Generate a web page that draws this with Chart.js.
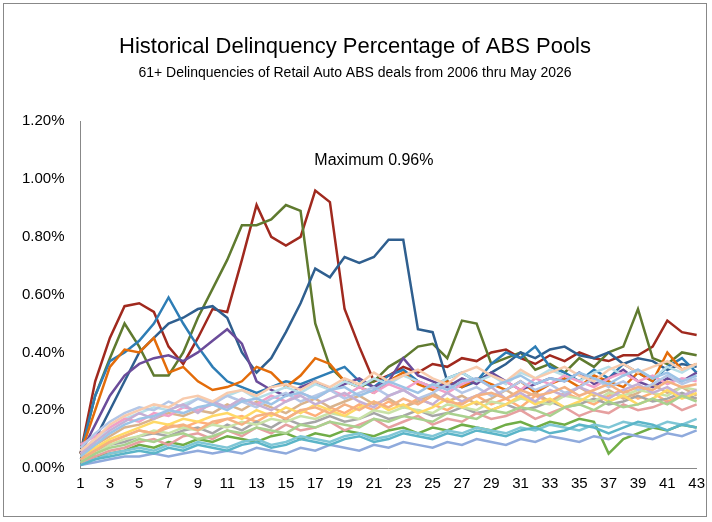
<!DOCTYPE html>
<html><head><meta charset="utf-8">
<script src="https://cdn.jsdelivr.net/npm/chart.js@4"></script>
<style>
html,body{margin:0;padding:0;background:#fff}
#wrap{position:absolute;left:3px;top:3px;width:704px;height:514px;border:1px solid #888;box-sizing:border-box}
canvas{display:block}
</style></head><body>
<div id="wrap"><canvas id="c" width="704" height="514"></canvas></div>
<script>
const categories = Array.from({length:43},(_, i)=>String(i+1));
const titleText = "Historical Delinquency Percentage of ABS Pools";
const subtitleText = "61+ Delinquencies of Retail Auto ABS deals from 2006 thru May 2026";
const annotationText = "Maximum 0.96%";
const yTicks = [0,0.2,0.4,0.6,0.8,1.0,1.2];

const seriesDarkRed = [0.05,0.30,0.45,0.56,0.57,0.54,0.42,0.36,0.45,0.55,0.54,0.72,0.91,0.80,0.77,0.80,0.96,0.92,0.55,0.42,0.30,0.32,0.35,0.33,0.36,0.35,0.38,0.37,0.40,0.41,0.38,0.36,0.39,0.37,0.40,0.38,0.37,0.39,0.39,0.42,0.51,0.47,0.46];
const seriesOlive   = [0.05,0.25,0.38,0.50,0.42,0.32,0.32,0.40,0.52,0.62,0.72,0.84,0.84,0.86,0.91,0.89,0.50,0.35,0.30,0.28,0.30,0.35,0.38,0.42,0.43,0.38,0.51,0.50,0.36,0.38,0.40,0.34,0.36,0.33,0.38,0.35,0.40,0.42,0.55,0.38,0.36,0.40,0.39];
const seriesSteel   = [0.03,0.10,0.20,0.30,0.40,0.45,0.50,0.52,0.55,0.56,0.52,0.40,0.33,0.38,0.47,0.57,0.69,0.66,0.73,0.71,0.73,0.79,0.79,0.48,0.47,0.30,0.28,0.30,0.33,0.36,0.40,0.38,0.41,0.42,0.39,0.38,0.40,0.36,0.38,0.37,0.34,0.36,0.35];
const seriesTeal    = [0.05,0.25,0.37,0.40,0.44,0.50,0.59,0.50,0.42,0.35,0.30,0.28,0.26,0.28,0.30,0.29,0.31,0.33,0.35,0.30,0.28,0.32,0.34,0.30,0.28,0.31,0.33,0.30,0.36,0.40,0.38,0.42,0.35,0.33,0.30,0.34,0.31,0.36,0.33,0.30,0.35,0.38,0.33];
const seriesOrange  = [0.05,0.20,0.35,0.41,0.40,0.45,0.33,0.35,0.30,0.27,0.28,0.30,0.35,0.33,0.28,0.32,0.38,0.36,0.30,0.28,0.26,0.30,0.33,0.29,0.27,0.30,0.28,0.31,0.29,0.27,0.30,0.26,0.29,0.31,0.28,0.32,0.30,0.28,0.33,0.30,0.40,0.34,0.36];
const seriesPurple  = [0.05,0.15,0.25,0.32,0.36,0.38,0.39,0.37,0.40,0.44,0.48,0.43,0.30,0.27,0.25,0.28,0.30,0.27,0.29,0.31,0.28,0.30,0.38,0.32,0.30,0.28,0.31,0.29,0.33,0.30,0.27,0.29,0.31,0.30,0.33,0.29,0.31,0.34,0.30,0.28,0.31,0.30,0.33];

const bg1  = [0.04,0.08,0.12,0.15,0.17,0.18,0.20,0.19,0.21,0.22,0.20,0.23,0.24,0.22,0.25,0.26,0.24,0.27,0.28,0.25,0.27,0.30,0.28,0.26,0.29,0.27,0.30,0.31,0.28,0.30,0.32,0.29,0.31,0.30,0.33,0.31,0.29,0.32,0.34,0.31,0.33,0.30,0.32];
const bg2  = [0.03,0.06,0.09,0.11,0.13,0.12,0.14,0.15,0.13,0.16,0.17,0.15,0.18,0.19,0.17,0.20,0.21,0.19,0.22,0.20,0.23,0.21,0.24,0.22,0.25,0.23,0.22,0.25,0.26,0.24,0.27,0.25,0.26,0.28,0.25,0.27,0.29,0.26,0.28,0.27,0.30,0.28,0.29];
const bg3  = [0.02,0.05,0.07,0.08,0.10,0.09,0.11,0.12,0.10,0.11,0.13,0.12,0.14,0.13,0.12,0.15,0.14,0.16,0.15,0.14,0.17,0.16,0.18,0.17,0.16,0.19,0.18,0.17,0.20,0.19,0.21,0.20,0.18,0.21,0.22,0.20,0.23,0.21,0.22,0.24,0.22,0.25,0.23];
const bg4  = [0.06,0.10,0.15,0.18,0.20,0.22,0.21,0.24,0.25,0.23,0.26,0.27,0.25,0.28,0.29,0.27,0.30,0.28,0.31,0.29,0.33,0.30,0.32,0.34,0.31,0.29,0.33,0.35,0.32,0.30,0.34,0.31,0.33,0.35,0.32,0.30,0.34,0.36,0.33,0.35,0.37,0.34,0.36];
const bg5  = [0.01,0.03,0.04,0.05,0.06,0.05,0.07,0.06,0.08,0.07,0.06,0.08,0.09,0.07,0.08,0.10,0.09,0.08,0.10,0.11,0.09,0.10,0.12,0.11,0.10,0.12,0.11,0.13,0.12,0.11,0.13,0.14,0.12,0.13,0.15,0.14,0.12,0.14,0.16,0.15,0.13,0.15,0.14];
const bg6  = [0.05,0.09,0.13,0.16,0.19,0.17,0.20,0.22,0.19,0.23,0.21,0.24,0.22,0.20,0.23,0.25,0.22,0.24,0.26,0.23,0.21,0.25,0.27,0.24,0.22,0.26,0.23,0.25,0.28,0.24,0.26,0.23,0.27,0.25,0.28,0.26,0.24,0.27,0.29,0.26,0.28,0.25,0.27];
const bg7  = [0.02,0.04,0.06,0.07,0.09,0.10,0.08,0.11,0.12,0.10,0.13,0.11,0.14,0.12,0.15,0.13,0.14,0.16,0.13,0.15,0.17,0.14,0.16,0.18,0.15,0.17,0.16,0.19,0.17,0.18,0.20,0.17,0.19,0.21,0.18,0.20,0.19,0.22,0.20,0.21,0.23,0.20,0.22];
const bg8  = [0.07,0.12,0.16,0.19,0.21,0.20,0.23,0.21,0.24,0.22,0.25,0.23,0.21,0.24,0.26,0.23,0.25,0.27,0.24,0.26,0.28,0.25,0.27,0.24,0.26,0.29,0.26,0.28,0.25,0.27,0.30,0.27,0.29,0.26,0.28,0.31,0.28,0.30,0.27,0.29,0.32,0.29,0.31];
const bg9  = [0.01,0.02,0.03,0.04,0.04,0.05,0.04,0.05,0.06,0.05,0.06,0.05,0.07,0.06,0.05,0.07,0.06,0.08,0.07,0.06,0.08,0.07,0.09,0.08,0.07,0.09,0.08,0.10,0.09,0.08,0.10,0.09,0.11,0.10,0.09,0.11,0.10,0.12,0.11,0.10,0.12,0.11,0.13];
const bg10 = [0.04,0.07,0.10,0.12,0.14,0.16,0.15,0.17,0.16,0.18,0.19,0.17,0.20,0.18,0.21,0.19,0.22,0.20,0.18,0.21,0.23,0.20,0.22,0.19,0.21,0.24,0.21,0.23,0.20,0.22,0.25,0.22,0.24,0.21,0.23,0.26,0.23,0.25,0.22,0.24,0.27,0.24,0.26];
const bg11 = [0.03,0.05,0.08,0.10,0.11,0.13,0.12,0.14,0.13,0.15,0.14,0.16,0.15,0.17,0.16,0.18,0.17,0.19,0.18,0.17,0.20,0.19,0.21,0.20,0.19,0.22,0.21,0.20,0.23,0.22,0.24,0.23,0.22,0.25,0.24,0.23,0.26,0.25,0.27,0.26,0.25,0.28,0.27];
const bg12 = [0.08,0.11,0.14,0.17,0.16,0.19,0.18,0.21,0.20,0.22,0.21,0.24,0.22,0.25,0.23,0.26,0.24,0.27,0.25,0.28,0.26,0.29,0.27,0.30,0.28,0.26,0.29,0.31,0.28,0.30,0.27,0.31,0.29,0.32,0.30,0.28,0.31,0.33,0.30,0.32,0.29,0.31,0.30];
const bg13 = [0.02,0.03,0.05,0.06,0.07,0.06,0.08,0.07,0.09,0.08,0.07,0.09,0.10,0.08,0.09,0.11,0.10,0.09,0.11,0.12,0.10,0.11,0.13,0.12,0.11,0.13,0.12,0.14,0.13,0.12,0.14,0.13,0.15,0.14,0.13,0.15,0.14,0.16,0.15,0.14,0.16,0.15,0.17];
const bg14 = [0.05,0.08,0.11,0.14,0.15,0.17,0.19,0.18,0.20,0.19,0.22,0.20,0.23,0.21,0.19,0.22,0.24,0.21,0.23,0.25,0.22,0.24,0.21,0.23,0.26,0.23,0.25,0.22,0.24,0.27,0.24,0.26,0.23,0.25,0.28,0.25,0.27,0.24,0.26,0.29,0.26,0.28,0.25];
const bg15 = [0.03,0.06,0.08,0.09,0.11,0.12,0.11,0.13,0.14,0.12,0.15,0.13,0.16,0.14,0.17,0.15,0.16,0.18,0.16,0.17,0.19,0.17,0.18,0.20,0.18,0.19,0.21,0.19,0.20,0.22,0.20,0.21,0.23,0.21,0.22,0.24,0.22,0.23,0.25,0.23,0.24,0.26,0.24];
const bg16 = [0.06,0.10,0.14,0.17,0.19,0.21,0.20,0.22,0.24,0.23,0.25,0.27,0.24,0.26,0.28,0.26,0.29,0.27,0.30,0.28,0.31,0.29,0.32,0.30,0.28,0.31,0.33,0.30,0.32,0.29,0.33,0.31,0.34,0.32,0.30,0.33,0.35,0.32,0.34,0.31,0.35,0.33,0.36];
const bg17 = [0.02,0.04,0.05,0.06,0.08,0.07,0.09,0.08,0.10,0.09,0.11,0.10,0.09,0.11,0.12,0.10,0.12,0.11,0.13,0.12,0.11,0.13,0.14,0.12,0.14,0.13,0.15,0.14,0.13,0.15,0.16,0.14,0.16,0.15,0.17,0.16,0.05,0.10,0.12,0.14,0.13,0.15,0.14];
const bg18 = [0.04,0.07,0.09,0.11,0.13,0.12,0.15,0.14,0.16,0.15,0.17,0.18,0.16,0.19,0.17,0.20,0.18,0.21,0.19,0.22,0.20,0.23,0.21,0.24,0.22,0.20,0.23,0.25,0.22,0.24,0.21,0.25,0.23,0.26,0.24,0.22,0.25,0.27,0.24,0.26,0.23,0.25,0.24];

const bgSeries = [bg1,bg2,bg3,bg4,bg5,bg6,bg7,bg8,bg9,bg10,bg11,bg12,bg13,bg14,bg15,bg16,bg17,bg18];
const bgColors = ['#9DC3E6','#F4B183','#A9D18E','#F8CBAD','#5BB5C8','#C5B0D5','#E6A0A0','#B4C7E7','#8FAADC','#FFD966','#C9E2A7','#F2A0C8','#7FC6D6','#D9B38C','#A6A6A6','#B7DEE8','#70AD47','#FFB07A'];

const datasets = [];
bgSeries.forEach((d,i)=>datasets.push({data:d,borderColor:bgColors[i],borderWidth:2.5}));
[[seriesPurple,'#6B4C9A'],[seriesOrange,'#E36C0A'],[seriesTeal,'#2E7DB5'],[seriesSteel,'#2F5F8F'],[seriesOlive,'#5F7A2F'],[seriesDarkRed,'#A0291E']].forEach(([d,c])=>datasets.push({data:d,borderColor:c,borderWidth:2.5}));

const annot = {id:'annot',afterDraw(ch){const x=ch.scales.x,y=ch.scales.y,ctx=ch.ctx;ctx.save();ctx.font='16px "Liberation Sans", Arial';ctx.fillStyle='#000';ctx.textAlign='center';ctx.textBaseline='middle';ctx.fillText(annotationText,x.getPixelForValue(20),y.getPixelForValue(1.065));ctx.restore();}};

new Chart(document.getElementById('c'),{type:'line',data:{labels:categories,datasets:datasets},
options:{responsive:false,animation:false,events:[],
 elements:{point:{radius:0},line:{tension:0}},
 layout:{padding:{left:6,right:8,top:2,bottom:22}},
 plugins:{legend:{display:false},tooltip:{enabled:false},
  title:{display:true,text:titleText,font:{family:'"Liberation Sans", Arial',size:22,weight:'normal'},color:'#000',padding:{top:28,bottom:4}},
  subtitle:{display:true,text:subtitleText,font:{family:'"Liberation Sans", Arial',size:14},color:'#000',padding:{bottom:40}}},
 scales:{
  x:{grid:{display:false,drawTicks:true,tickLength:4},border:{color:'#888'},ticks:{autoSkip:false,maxRotation:0,color:'#000',font:{family:'"Liberation Sans", Arial',size:15},callback:(v,i)=>i%2===0?categories[i]:''}},
  y:{min:0,max:1.2,grid:{display:false,tickLength:4},border:{color:'#888'},afterBuildTicks:a=>{a.ticks=yTicks.map(v=>({value:v}));},ticks:{color:'#000',padding:12,font:{family:'"Liberation Sans", Arial',size:15},callback:v=>v.toFixed(2)+'%'}}
 }}, plugins:[annot]});
</script></body></html>
